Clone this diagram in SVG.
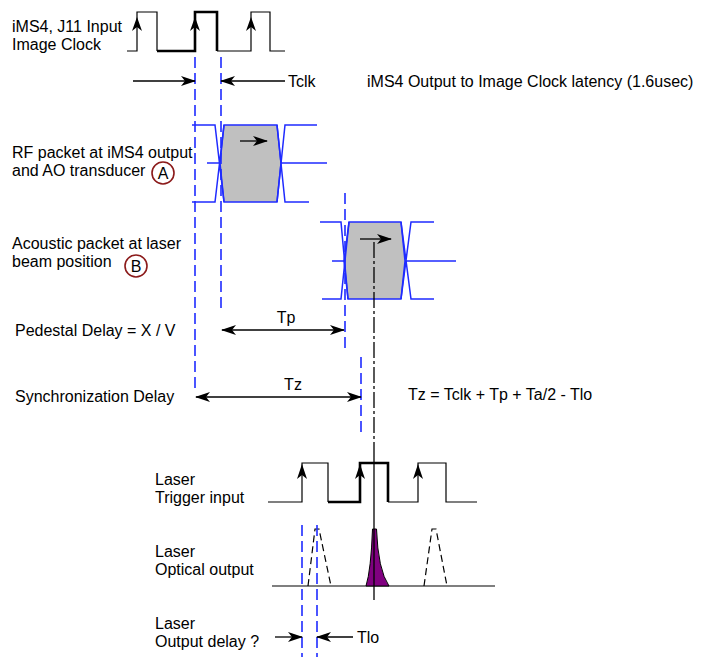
<svg xmlns="http://www.w3.org/2000/svg" width="711" height="657" viewBox="0 0 711 657">
<defs>
<marker id="ah" viewBox="0 0 15 10" markerWidth="15" markerHeight="10" refX="14" refY="5" orient="auto-start-reverse" markerUnits="userSpaceOnUse">
<path d="M0,0 L15,5 L0,10 L4,5 Z" fill="#000"/>
</marker>
<style>
text{font-family:"Liberation Sans",Arial,sans-serif;font-size:16px;fill:#000}
.w{fill:none;stroke:#000;stroke-width:1.2}
.wt{fill:none;stroke:#000;stroke-width:2.6}
.bd{fill:none;stroke:#1f2bff;stroke-width:1.6;stroke-dasharray:11,5}
.bl{fill:none;stroke:#1f2bff;stroke-width:1.5}
.pk{fill:#c0c0c0;stroke:#1f2bff;stroke-width:1.5}
.ar{fill:none;stroke:#000;stroke-width:1.3}
.circ{fill:none;stroke:#8b1a1a;stroke-width:1.6}
.up{fill:#000}
</style>
</defs>

<g id="labels">
<text x="12" y="32">iMS4, J11 Input</text>
<text x="12" y="50">Image Clock</text>
<text x="367" y="87">iMS4 Output to Image Clock latency (1.6usec)</text>
<text x="12" y="158">RF packet at iMS4 output</text>
<text x="12" y="176">and AO transducer</text>
<text x="12" y="249">Acoustic packet at laser</text>
<text x="12" y="267">beam position</text>
<text x="15" y="336">Pedestal Delay = X / V</text>
<text x="15" y="402">Synchronization Delay</text>
<text x="408" y="400">Tz = Tclk + Tp + Ta/2 - Tlo</text>
<text x="155" y="485">Laser</text>
<text x="155" y="503">Trigger input</text>
<text x="155" y="557">Laser</text>
<text x="155" y="575">Optical output</text>
<text x="155" y="629">Laser</text>
<text x="155" y="647">Output delay ?</text>
</g>

<g id="markerA">
<circle class="circ" cx="163" cy="173" r="11"/>
<text x="163" y="179" text-anchor="middle">A</text>
</g>
<g id="markerB">
<circle class="circ" cx="136" cy="266" r="11"/>
<text x="136" y="272" text-anchor="middle">B</text>
</g>

<g id="imageClock">
<path class="w" d="M127,51 H137 V12 H157 V51"/>
<path class="wt" d="M157,51 H195 V12 H217 V51"/>
<path class="w" d="M217,51 H251 V12 H270 V51 H285"/>
<path class="up" d="M137,17 L142,31 L137,27 L132,31 Z"/>
<path class="up" d="M195,17 L200,31 L195,27 L190,31 Z"/>
<path class="up" d="M251,17 L256,31 L251,27 L246,31 Z"/>
</g>

<g id="packetA">
<path class="pk" d="M224,125 H277 L281,163 L277,202 H224 L220,163 Z"/>
<path class="bl" d="M192,125 H215 L224,202 M192,202 H215 L224,125 M207,163 H220 M277,125 L285,202 H309 M277,202 L285,125 H317 M281,163 H327"/>
<line class="ar" x1="240" y1="141" x2="267" y2="141" marker-end="url(#ah)"/>
</g>

<g id="packetB">
<path class="pk" d="M349,222 H401 L405,261 L401,299 H348 L344,261 Z"/>
<path class="bl" d="M320,222 H341 L348,299 M322,299 H341 L349,222 M332,261 H344 M401,222 L411,299 H434 M401,299 L411,222 H434 M405,261 H456"/>
<line class="ar" x1="360" y1="239" x2="391" y2="239" marker-end="url(#ah)"/>
</g>

<g id="triggerInput">
<path class="w" d="M268,502 H302 V463 H328 V502"/>
<path class="wt" d="M328,502 H360 V463 H388 V502"/>
<path class="w" d="M388,502 H418 V463 H446 V502 H477"/>
<path class="up" d="M302,464 L307,479 L302,475 L297,479 Z"/>
<path class="up" d="M360,464 L365,479 L360,475 L355,479 Z"/>
<path class="up" d="M418,464 L423,479 L418,475 L413,479 Z"/>
</g>

<g id="opticalOutput">
<line class="w" x1="272" y1="586" x2="495" y2="586"/>
<path d="M366,586 Q371,570 372.5,529 L376.5,529 Q378,570 389,586 Z" fill="#800080" stroke="#000" stroke-width="1"/>
<path class="w" stroke-dasharray="7,4" d="M308,586 L315,529 H319 L331,586"/>
<path class="w" stroke-dasharray="7,4" d="M424,586 L432,529 H436 L447,586"/>
</g>

<g id="connectors">
<line class="bd" x1="195" y1="57" x2="195" y2="388"/>
<line class="bd" x1="221" y1="57" x2="221" y2="313"/>
<line class="bd" x1="345" y1="193" x2="345" y2="353"/>
<line class="bd" x1="361" y1="357" x2="361" y2="433"/>
<line class="bd" x1="302" y1="525" x2="302" y2="657"/>
<line class="bd" x1="317" y1="525" x2="317" y2="657"/>
<line x1="374" y1="242" x2="374" y2="457" stroke="#000" stroke-width="1.3" stroke-dasharray="16,3,3,3"/>
<line x1="374" y1="457" x2="374" y2="600" stroke="#000" stroke-width="1.3"/>
<line class="ar" x1="133" y1="81" x2="195" y2="81" marker-end="url(#ah)"/>
<line class="ar" x1="285" y1="81" x2="221" y2="81" marker-end="url(#ah)"/>
<text x="288" y="87">Tclk</text>
<line class="ar" x1="222" y1="330" x2="344" y2="330" marker-start="url(#ah)" marker-end="url(#ah)"/>
<text x="286" y="323" text-anchor="middle">Tp</text>
<line class="ar" x1="196" y1="397" x2="361" y2="397" marker-start="url(#ah)" marker-end="url(#ah)"/>
<text x="293" y="390" text-anchor="middle">Tz</text>
<line class="ar" x1="275" y1="637" x2="302" y2="637" marker-end="url(#ah)"/>
<line class="ar" x1="353" y1="637" x2="317" y2="637" marker-end="url(#ah)"/>
<text x="357" y="643">Tlo</text>
</g>
</svg>
